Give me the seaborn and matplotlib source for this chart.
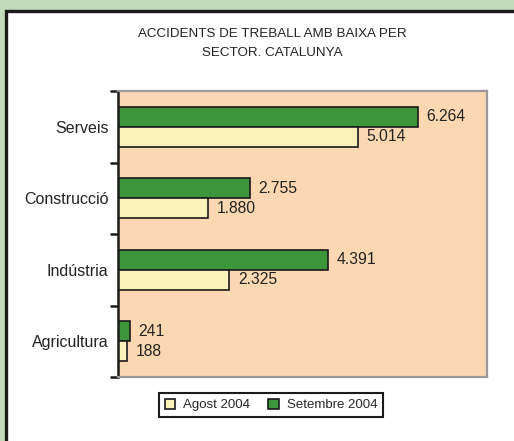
import matplotlib
import matplotlib.pyplot as plt
import pandas as pd
import seaborn as sns
from matplotlib.patches import Patch, Rectangle

matplotlib.use("Agg")

# --- DATA ---
sectors = ["Serveis", "Construcció", "Indústria", "Agricultura"]
agost_2004 = [5014, 1880, 2325, 188]
setembre_2004 = [6264, 2755, 4391, 241]
series_names = ["Agost 2004", "Setembre 2004"]

title_text = "ACCIDENTS DE TREBALL AMB BAIXA PER\nSECTOR. CATALUNYA"

# --- STYLE ---
OUTER_GREEN = "#c2dab8"
PLOT_BG = "#fbd8b2"
BAR_GREEN = "#3d963c"
BAR_YELLOW = "#faf2bb"
colors = {"Agost 2004": BAR_YELLOW, "Setembre 2004": BAR_GREEN}


def build_frame():
    rows = []
    for name, vals in zip(series_names, [agost_2004, setembre_2004]):
        for sector, v in zip(sectors, vals):
            rows.append({"sector": sector, "serie": name, "valor": v})
    return pd.DataFrame(rows)


def main():
    df = build_frame()

    sns.set_theme(style="white")
    plt.rcParams["font.family"] = ["Liberation Sans", "DejaVu Sans"]

    fig = plt.figure(figsize=(5.14, 4.41), dpi=100)
    fig.patch.set_facecolor(OUTER_GREEN)

    # white panel with black frame (runs off right and bottom edges)
    panel = Rectangle((5.5 / 514, -0.05), 1.1, 1 - 10.5 / 441 + 0.05,
                      transform=fig.transFigure, facecolor="white",
                      edgecolor="#1a1a1a", linewidth=2.4, zorder=-10)
    fig.patches.append(panel)

    ax = fig.add_axes([118 / 514, 1 - 377 / 441, 369 / 514, 286 / 441])
    ax.set_zorder(5)
    ax.set_facecolor(PLOT_BG)

    # green (Setembre) drawn on top, yellow (Agost) below
    sns.barplot(data=df, y="sector", x="valor", hue="serie",
                order=sectors, hue_order=["Setembre 2004", "Agost 2004"],
                palette=colors, saturation=1, width=0.56, orient="h",
                edgecolor="#1a1a1a", linewidth=1.2, ax=ax, legend=False)

    ax.set_xlim(0, 7700)
    ax.set_ylim(3.5, -0.5)
    ax.set_xlabel("")
    ax.set_ylabel("")
    ax.set_xticks([])

    # value labels
    for container in ax.containers:
        labels = [f"{int(b.get_width()):,}".replace(",", ".") for b in container]
        ax.bar_label(container, labels=labels, padding=6, fontsize=11.3,
                     color="#222222")

    # category labels at centres, tick marks at band boundaries
    ax.set_yticks(range(len(sectors)))
    ax.set_yticklabels(sectors, fontsize=11.5, color="#222222")
    ax.tick_params(axis="y", which="major", length=0, pad=7)
    ax.set_yticks([i - 0.5 for i in range(len(sectors) + 1)], minor=True)
    ax.tick_params(axis="y", which="minor", left=True, length=6, width=1.8,
                   color="#1a1a1a", direction="out")

    for side in ["top", "right", "bottom"]:
        ax.spines[side].set_color("#999999")
        ax.spines[side].set_linewidth(1.6)
        ax.spines[side].set_visible(True)
    ax.spines["left"].set_color("#1a1a1a")
    ax.spines["left"].set_linewidth(1.8)
    ax.spines["left"].set_visible(True)

    fig.text(272 / 514, 1 - 43.5 / 441, title_text, ha="center", va="center",
             fontsize=9.6, color="#222222", linespacing=1.8)

    handles = [Patch(facecolor=colors[n], edgecolor="#1a1a1a", linewidth=1.2)
               for n in series_names]
    leg = fig.legend(handles, series_names, loc="center",
                     bbox_to_anchor=(271 / 514, 1 - 405 / 441), ncol=2,
                     fontsize=9.5, frameon=True, fancybox=False,
                     handlelength=0.8, handleheight=0.8, handletextpad=0.6,
                     columnspacing=1.4, borderpad=0.45)
    leg.get_frame().set_edgecolor("#1a1a1a")
    leg.get_frame().set_linewidth(1.5)
    leg.get_frame().set_facecolor("white")
    leg.get_frame().set_alpha(1)

    fig.savefig("out.png", dpi=100, facecolor=fig.get_facecolor())
    plt.close(fig)


if __name__ == "__main__":
    main()
